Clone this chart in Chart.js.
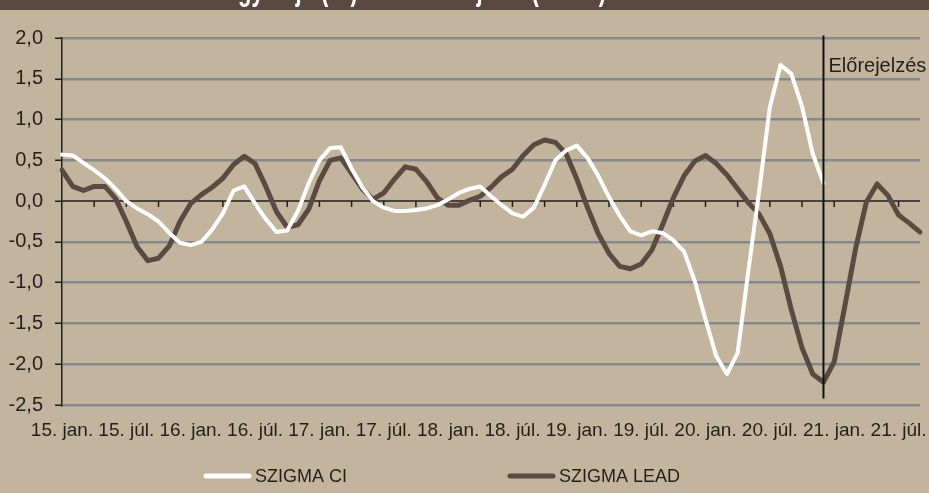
<!DOCTYPE html>
<html lang="hu">
<head>
<meta charset="utf-8">
<script src="https://cdn.jsdelivr.net/npm/chart.js@4.4.1/dist/chart.umd.min.js"></script>
<style>
  html, body { margin: 0; padding: 0; background: #c3b59d; }
  canvas { display: block; }
</style>
</head>
<body>
<canvas id="szigmaChart" width="929" height="493"></canvas>
<script>
// adatok
const years = ["15", "16", "17", "18", "19", "20", "21"];
const monthNames = ["jan.", "febr.", "márc.", "ápr.", "máj.", "jún.", "júl.", "aug.", "szept.", "okt.", "nov.", "dec."];
const monthCount = 81; // 2015. jan. - 2021. szept.

const categories = [];
for (let i = 0; i < monthCount; i++) {
  categories.push(years[Math.floor(i / 12)] + ". " + monthNames[i % 12]);
}

// SZIGMA CI (fehér) - 2020. dec.-ig
const szigmaCI = [
  0.57, 0.56, 0.47, 0.38, 0.28, 0.15, 0.00, -0.09, -0.16, -0.25, -0.39, -0.51,
  -0.54, -0.50, -0.35, -0.15, 0.13, 0.18, -0.03, -0.22, -0.38, -0.36, -0.12, 0.22,
  0.50, 0.65, 0.66, 0.40, 0.17, 0.00, -0.08, -0.12, -0.12, -0.11, -0.09, -0.05,
  0.02, 0.10, 0.15, 0.18, 0.06, -0.05, -0.15, -0.19, -0.08, 0.20, 0.50, 0.62,
  0.68, 0.53, 0.31, 0.05, -0.18, -0.37, -0.42, -0.37, -0.39, -0.48, -0.62, -0.98,
  -1.45, -1.90, -2.12, -1.86, -0.85, 0.12, 1.15, 1.67, 1.56, 1.16, 0.58, 0.22
];

// SZIGMA LEAD (barna)
const szigmaLead = [
  0.38, 0.18, 0.13, 0.18, 0.18, 0.03, -0.25, -0.56, -0.73, -0.70, -0.55, -0.25,
  -0.03, 0.08, 0.17, 0.28, 0.45, 0.55, 0.46, 0.18, -0.13, -0.32, -0.29, -0.10,
  0.25, 0.50, 0.53, 0.34, 0.15, 0.02, 0.10, 0.27, 0.42, 0.39, 0.24, 0.04,
  -0.05, -0.05, 0.01, 0.06, 0.17, 0.30, 0.39, 0.56, 0.69, 0.75, 0.72, 0.58,
  0.27, -0.08, -0.40, -0.64, -0.80, -0.83, -0.77, -0.60, -0.29, 0.04, 0.31, 0.49,
  0.56, 0.46, 0.32, 0.15, -0.02, -0.16, -0.40, -0.80, -1.33, -1.80, -2.12, -2.22,
  -1.97, -1.28, -0.58, -0.01, 0.21, 0.07, -0.17, -0.27, -0.38
];

const yTicks = [-2.5, -2.0, -1.5, -1.0, -0.5, 0.0, 0.5, 1.0, 1.5, 2.0];

// előrejelzés kezdete (2020. dec.)
const forecastIndex = 71;
const forecastTop = 2.03;
const forecastBottom = -2.42;
const forecastLabel = "Előrejelzés";
const forecastLabelValue = 1.65;

const titleText = "A SZIGMA egyidejű (CI) és az előrejelző (LEAD) indexe";

const FONT = "'Liberation Sans', Arial, sans-serif";
const TEXT = "#1f1f1f";

// háttér + fejléc sáv (a cím nagy része a képen kívül esik)
const frame = {
  id: 'frame',
  beforeDraw(chart) {
    const ctx = chart.ctx;
    ctx.save();
    ctx.fillStyle = "#594a41";
    ctx.fillRect(0, 0, chart.width, 10);
    ctx.beginPath();
    ctx.rect(0, 0, chart.width, 10);
    ctx.clip();
    ctx.fillStyle = "#ffffff";
    ctx.font = "bold 22px " + FONT;
    ctx.textBaseline = "alphabetic";
    ctx.textAlign = "left";
    const pre = ctx.measureText("A SZIGMA e").width;
    ctx.translate(238 - pre, 0);
    ctx.scale(1, 1.5);
    ctx.fillText(titleText, 0, 0);
    ctx.restore();
  }
};

// nulla tengely kis osztásokkal
const zeroAxis = {
  id: 'zeroAxis',
  beforeDatasetsDraw(chart) {
    const { ctx, chartArea, scales: { x, y } } = chart;
    const y0 = y.getPixelForValue(0);
    ctx.save();
    ctx.strokeStyle = "#1f1f1f";
    ctx.lineWidth = 1.5;
    ctx.beginPath();
    ctx.moveTo(chartArea.left, y0);
    ctx.lineTo(chartArea.right, y0);
    for (let i = 3; i < categories.length; i += 3) {
      const px = x.getPixelForValue(i);
      ctx.moveTo(px, y0);
      ctx.lineTo(px, y0 + 6);
    }
    ctx.stroke();
    ctx.restore();
  }
};

// előrejelzés függőleges vonal
const forecastLine = {
  id: 'forecastLine',
  afterDatasetsDraw(chart) {
    const { ctx, scales: { x, y } } = chart;
    const px = x.getPixelForValue(forecastIndex);
    ctx.save();
    ctx.strokeStyle = "#111";
    ctx.lineWidth = 2;
    ctx.beginPath();
    ctx.moveTo(px, y.getPixelForValue(forecastTop));
    ctx.lineTo(px, y.getPixelForValue(forecastBottom));
    ctx.stroke();
    ctx.fillStyle = TEXT;
    ctx.font = "20px " + FONT;
    ctx.textAlign = "left";
    ctx.textBaseline = "middle";
    ctx.fillText(forecastLabel, px + 5, y.getPixelForValue(forecastLabelValue));
    ctx.restore();
  }
};

// jelmagyarázat
const legendItems = [204, 508];
const bottomLegend = {
  id: 'bottomLegend',
  afterDraw(chart) {
    const ctx = chart.ctx;
    const ly = 476;
    ctx.save();
    ctx.font = "18px " + FONT;
    ctx.textBaseline = "middle";
    ctx.textAlign = "left";
    chart.data.datasets.forEach((ds, i) => {
      const lx = legendItems[i];
      ctx.strokeStyle = ds.borderColor;
      ctx.lineWidth = 5;
      ctx.lineCap = "round";
      ctx.beginPath();
      ctx.moveTo(lx + 2, ly);
      ctx.lineTo(lx + 45, ly);
      ctx.stroke();
      ctx.fillStyle = TEXT;
      ctx.fillText(ds.label, lx + 51, ly + 1);
    });
    ctx.restore();
  }
};

new Chart(document.getElementById("szigmaChart"), {
  type: 'line',
  data: {
    labels: categories,
    datasets: [
      {
        label: "SZIGMA CI",
        data: szigmaCI,
        borderColor: "#ffffff",
        borderWidth: 4,
        pointRadius: 0,
        tension: 0,
        borderJoinStyle: "round",
        borderCapStyle: "round"
      },
      {
        label: "SZIGMA LEAD",
        data: szigmaLead,
        borderColor: "#5b4a43",
        borderWidth: 5,
        pointRadius: 0,
        tension: 0,
        borderJoinStyle: "round",
        borderCapStyle: "round"
      }
    ]
  },
  options: {
    responsive: false,
    animation: false,
    devicePixelRatio: 1,
    layout: { padding: { top: 38, right: 9, bottom: 48, left: 0 } },
    plugins: {
      legend: { display: false },
      tooltip: { enabled: false }
    },
    scales: {
      x: {
        type: 'category',
        offset: false,
        grid: { display: false, drawTicks: false },
        border: { display: false },
        ticks: {
          autoSkip: false,
          maxRotation: 0,
          minRotation: 0,
          padding: 14,
          color: TEXT,
          font: { family: FONT, size: 19 },
          callback: function (v, i) { return i % 6 === 0 ? this.getLabelForValue(v) : null; }
        },
        afterFit: (s) => { s.height = 40; s.paddingLeft = 0; s.paddingRight = 0; }
      },
      y: {
        min: yTicks[0],
        max: yTicks[yTicks.length - 1],
        afterBuildTicks: (s) => { s.ticks = yTicks.map(v => ({ value: v })); },
        ticks: {
          padding: 12,
          color: TEXT,
          font: { family: FONT, size: 20 },
          callback: (v) => Number(v).toFixed(1).replace('.', ',')
        },
        grid: {
          color: (c) => (c.tick && c.tick.value === 0) ? 'rgba(0,0,0,0)' : '#858a90',
          lineWidth: 2.5,
          tickColor: '#1f1f1f',
          tickLength: 7,
          tickWidth: 1.5
        },
        border: { color: '#1f1f1f', width: 1.5 },
        afterFit: (s) => { s.width = 62; s.paddingTop = 0; s.paddingBottom = 0; }
      }
    }
  },
  plugins: [frame, zeroAxis, forecastLine, bottomLegend]
});
</script>
</body>
</html>
